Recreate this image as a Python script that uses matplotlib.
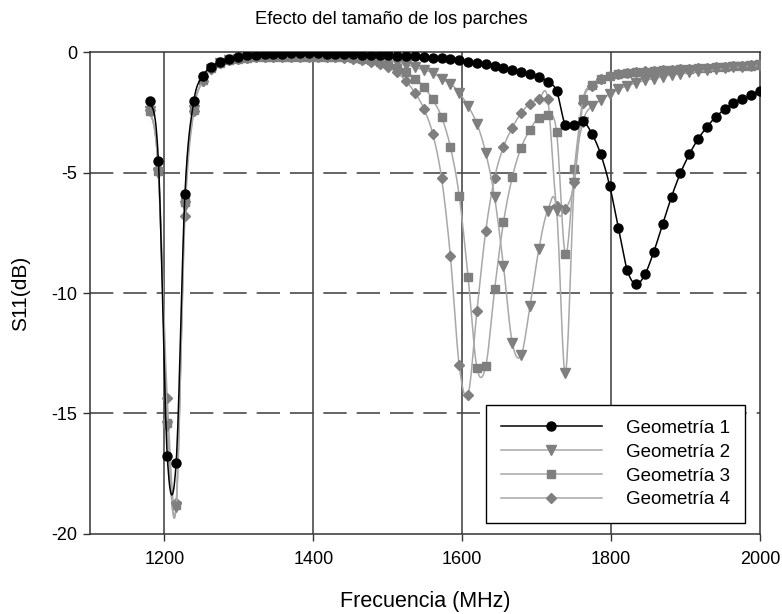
import numpy as np
import matplotlib
matplotlib.use("Agg")
import matplotlib.pyplot as plt
from matplotlib.lines import Line2D

plt.rcParams['font.family'] = ['Liberation Sans', 'DejaVu Sans']
plt.rcParams['axes.unicode_minus'] = False

# barrido del analizador: 1180-2000 MHz, 70 puntos
FREQ_START = 1180
FREQ_STOP = 2000
N_POINTS = 70

geometria_1 = [
    -2.03, -4.53, -16.76, -17.07, -5.89, -2.04, -1.00, -0.61, -0.40, -0.27,
    -0.19, -0.14, -0.11, -0.09, -0.08, -0.07, -0.06, -0.06, -0.06, -0.06,
    -0.07, -0.08, -0.09, -0.10, -0.11, -0.12, -0.13, -0.14, -0.15, -0.16,
    -0.18, -0.20, -0.23, -0.26, -0.30, -0.35, -0.40, -0.45, -0.51, -0.58,
    -0.66, -0.75, -0.85, -0.93, -1.02, -1.24, -1.61, -3.04, -3.04, -2.88,
    -3.39, -4.25, -5.54, -7.31, -9.06, -9.64, -9.22, -8.28, -7.14, -6.00,
    -5.03, -4.25, -3.61, -3.11, -2.69, -2.38, -2.11, -1.93, -1.79, -1.61,
]
geometria_2 = [
    -2.45, -5.00, -15.50, -18.90, -6.40, -2.42, -1.20, -0.70, -0.47, -0.35,
    -0.28, -0.24, -0.21, -0.20, -0.19, -0.18, -0.18, -0.18, -0.18, -0.18,
    -0.19, -0.20, -0.21, -0.23, -0.25, -0.27, -0.30, -0.35, -0.42, -0.52,
    -0.63, -0.75, -0.86, -1.10, -1.31, -1.69, -2.25, -2.97, -4.19, -6.03,
    -8.88, -12.07, -12.58, -10.54, -8.18, -6.58, -6.56, -13.32, -5.45, -2.90,
    -2.25, -2.00, -1.75, -1.55, -1.40, -1.28, -1.18, -1.10, -1.02, -0.95,
    -0.90, -0.85, -0.80, -0.76, -0.72, -0.68, -0.64, -0.61, -0.58, -0.55,
]
geometria_3 = [
    -2.45, -4.95, -15.40, -18.80, -6.24, -2.40, -1.17, -0.68, -0.46, -0.34,
    -0.27, -0.23, -0.21, -0.20, -0.19, -0.19, -0.19, -0.19, -0.19, -0.19,
    -0.20, -0.21, -0.22, -0.24, -0.27, -0.32, -0.40, -0.50, -0.65, -0.85,
    -1.10, -1.44, -1.97, -2.69, -3.94, -5.96, -9.33, -13.10, -13.04, -9.85,
    -7.07, -5.19, -3.97, -3.22, -2.72, -2.62, -3.30, -8.39, -4.87, -1.95,
    -1.35, -1.10, -0.98, -0.92, -0.88, -0.85, -0.82, -0.79, -0.76, -0.74,
    -0.72, -0.70, -0.68, -0.66, -0.64, -0.62, -0.60, -0.58, -0.56, -0.54,
]
geometria_4 = [
    -2.40, -4.85, -14.36, -18.70, -6.80, -2.45, -1.20, -0.70, -0.47, -0.35,
    -0.28, -0.24, -0.21, -0.20, -0.19, -0.19, -0.19, -0.19, -0.19, -0.20,
    -0.20, -0.22, -0.25, -0.29, -0.34, -0.40, -0.48, -0.62, -0.85, -1.22,
    -1.69, -2.35, -3.39, -5.22, -8.46, -13.00, -14.22, -10.75, -7.42, -5.22,
    -3.94, -3.14, -2.53, -2.14, -1.97, -1.93, -6.40, -6.50, -5.40, -2.10,
    -1.40, -1.12, -0.98, -0.91, -0.86, -0.83, -0.80, -0.77, -0.75, -0.73,
    -0.71, -0.69, -0.67, -0.65, -0.63, -0.61, -0.59, -0.57, -0.55, -0.53,
]
series_names = ['Geometría 1', 'Geometría 2', 'Geometría 3', 'Geometría 4']
x_ticks = [1200, 1400, 1600, 1800, 2000]
y_ticks = [0, -5, -10, -15, -20]


def spline(x, y, n=16):
    # curva suave tipo Catmull-Rom entre los puntos medidos (solo para el trazo)
    x = np.asarray(x, float)
    y = np.asarray(y, float)
    t = np.linspace(0, 1, n, endpoint=False)
    h00 = 2 * t**3 - 3 * t**2 + 1
    h10 = t**3 - 2 * t**2 + t
    h01 = -2 * t**3 + 3 * t**2
    h11 = t**3 - t**2
    xs, ys = [], []
    for i in range(len(x) - 1):
        y0 = y[i - 1] if i > 0 else y[i]
        y3 = y[i + 2] if i + 2 < len(y) else y[i + 1]
        m1 = (y[i + 1] - y0) / 2
        m2 = (y3 - y[i]) / 2
        xs.append(x[i] + t * (x[i + 1] - x[i]))
        ys.append(h00 * y[i] + h10 * m1 + h01 * y[i + 1] + h11 * m2)
    xs.append([x[-1]])
    ys.append([y[-1]])
    return np.concatenate(xs), np.concatenate(ys)


freq = np.linspace(FREQ_START, FREQ_STOP, N_POINTS)

fig = plt.figure(figsize=(7.82, 6.14), dpi=100)
ax = fig.add_axes([0.1151, 0.1303, 0.8568, 0.785])

line_gray = '#a8a8a8'
mark_gray = '#7f7f7f'
styles = [
    ('black', 'black', 'o', 6.5),
    (line_gray, mark_gray, 'v', 7),
    (line_gray, mark_gray, 's', 6),
    (line_gray, mark_gray, 'D', 5.5),
]
data = [geometria_1, geometria_2, geometria_3, geometria_4]

handles = []
for k in [3, 2, 1, 0]:
    lc, mc, mk, ms = styles[k]
    sx, sy = spline(freq, data[k])
    z = 4 if k == 0 else 3
    ax.plot(sx, sy, color=lc, lw=1.1, zorder=z)
    ax.plot(freq, data[k], ls='none', marker=mk, ms=ms, color=mc, mec=mc, zorder=z)
for k in range(4):
    lc, mc, mk, ms = styles[k]
    handles.append(Line2D([], [], color=lc, lw=1.1, marker=mk, ms=ms, mfc=mc, mec=mc))

# rejilla: verticales continuas, horizontales discontinuas
for xv in x_ticks[:-1]:
    ax.axvline(xv, color='#3a3a3a', lw=1.1, zorder=1)
for yv in y_ticks[1:-1]:
    ax.axhline(yv, color='#4a4a4a', lw=1.2, dashes=(14, 6), zorder=1)

ax.set_xlim(1100, 2000)
ax.set_ylim(-20, 0)
ax.set_xticks(x_ticks)
ax.set_yticks(y_ticks)
ax.tick_params(direction='out', length=5, width=1, labelsize=13, color='#333333')
ax.tick_params(axis='x', pad=7)
ax.tick_params(axis='y', pad=4)
for sp in ax.spines.values():
    sp.set_color('#333333')
    sp.set_linewidth(1.1)

ax.set_xlabel('Frecuencia (MHz)', fontsize=15.5, va='center')
ax.xaxis.set_label_coords(0.5, -0.14)
ax.set_ylabel('S11(dB)', fontsize=15, va='center')
ax.yaxis.set_label_coords(-0.104, 0.5)
fig.text(0.5, 1 - 19 / 614, 'Efecto del tamaño de los parches', fontsize=13.2,
         ha='center', va='center')

leg = ax.legend(handles, series_names, loc='lower right', bbox_to_anchor=(0.978, 0.022),
                borderaxespad=0, fontsize=13.5, handlelength=5.4, handletextpad=1.3,
                labelspacing=0.36, borderpad=0.8, fancybox=False, framealpha=1,
                edgecolor='black', numpoints=1)
leg.get_frame().set_linewidth(1.0)
leg.set_zorder(10)

fig.savefig('out.png', dpi=100)
